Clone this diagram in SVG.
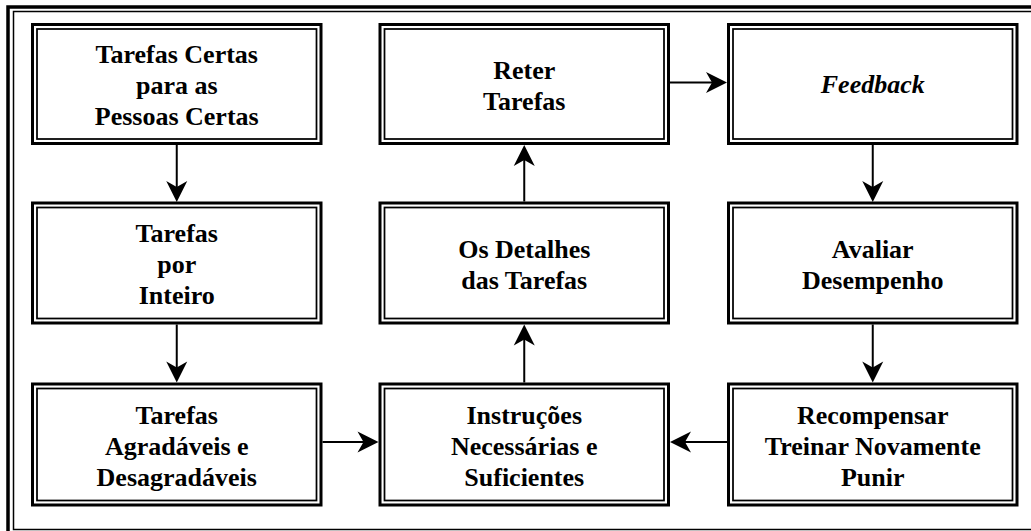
<svg xmlns="http://www.w3.org/2000/svg" width="1031" height="531" viewBox="0 0 1031 531">
<style>
.frameO{fill:none;stroke:#000;stroke-width:3.5}
.frameI{fill:none;stroke:#000;stroke-width:1.5}
.bo{fill:#fff;stroke:#000;stroke-width:3}
.bi{fill:none;stroke:#000;stroke-width:1.75}
.t{font-family:"Liberation Serif","Times New Roman",serif;font-weight:bold;font-size:26px;text-anchor:middle;fill:#000}
.it{font-style:italic}
.c{fill:none;stroke:#000;stroke-width:2;marker-end:url(#ah)}
</style>
<defs>
<marker id="ah" markerUnits="userSpaceOnUse" markerWidth="40" markerHeight="40" viewBox="-20 -20 40 40" refX="0" refY="0" orient="auto" overflow="visible">
<path d="M12,0 L-9,-10.5 L-3,0 L-9,10.5 Z" fill="#000"/>
</marker>
</defs>
<rect width="1031" height="531" fill="#fff"/>
<rect class="frameO" x="8" y="7" width="1040" height="540"/>
<rect class="frameI" x="13.5" y="11.5" width="1030" height="518"/>

<g id="n1">
<rect class="bo" x="32.5" y="24.5" width="288.5" height="119"/>
<rect class="bi" x="37" y="29" width="279.5" height="110"/>
<text class="t" x="176.75" y="63">Tarefas Certas</text>
<text class="t" x="176.75" y="94">para as</text>
<text class="t" x="176.75" y="125">Pessoas Certas</text>
</g>
<g id="n2">
<rect class="bo" x="32.5" y="203" width="288.5" height="120"/>
<rect class="bi" x="37" y="207.5" width="279.5" height="111"/>
<text class="t" x="176.75" y="242">Tarefas</text>
<text class="t" x="176.75" y="273">por</text>
<text class="t" x="176.75" y="304">Inteiro</text>
</g>
<g id="n3">
<rect class="bo" x="32.5" y="384" width="288.5" height="121"/>
<rect class="bi" x="37" y="388.5" width="279.5" height="112"/>
<text class="t" x="176.75" y="424">Tarefas</text>
<text class="t" x="176.75" y="455">Agradáveis e</text>
<text class="t" x="176.75" y="486">Desagradáveis</text>
</g>

<g id="n4">
<rect class="bo" x="380" y="24.5" width="288.5" height="119"/>
<rect class="bi" x="384.5" y="29" width="279.5" height="110"/>
<text class="t" x="524.25" y="78.5">Reter</text>
<text class="t" x="524.25" y="109.5">Tarefas</text>
</g>
<g id="n5">
<rect class="bo" x="380" y="203" width="288.5" height="120"/>
<rect class="bi" x="384.5" y="207.5" width="279.5" height="111"/>
<text class="t" x="524.25" y="257.5">Os Detalhes</text>
<text class="t" x="524.25" y="288.5">das Tarefas</text>
</g>
<g id="n6">
<rect class="bo" x="380" y="384" width="288.5" height="121"/>
<rect class="bi" x="384.5" y="388.5" width="279.5" height="112"/>
<text class="t" x="524.25" y="424">Instruções</text>
<text class="t" x="524.25" y="455">Necessárias e</text>
<text class="t" x="524.25" y="486">Suficientes</text>
</g>

<g id="n7">
<rect class="bo" x="728.5" y="24.5" width="288.5" height="119"/>
<rect class="bi" x="733" y="29" width="279.5" height="110"/>
<text class="t it" x="872.75" y="93">Feedback</text>
</g>
<g id="n8">
<rect class="bo" x="728.5" y="203" width="288.5" height="120"/>
<rect class="bi" x="733" y="207.5" width="279.5" height="111"/>
<text class="t" x="872.75" y="257.5">Avaliar</text>
<text class="t" x="872.75" y="288.5">Desempenho</text>
</g>
<g id="n9">
<rect class="bo" x="728.5" y="384" width="288.5" height="121"/>
<rect class="bi" x="733" y="388.5" width="279.5" height="112"/>
<text class="t" x="872.75" y="424">Recompensar</text>
<text class="t" x="872.75" y="455">Treinar Novamente</text>
<text class="t" x="872.75" y="486">Punir</text>
</g>

<g id="connectors">
<line class="c" x1="176.75" y1="145" x2="176.75" y2="190"/>
<line class="c" x1="176.75" y1="324.5" x2="176.75" y2="370.5"/>
<line class="c" x1="322.5" y1="442" x2="366.5" y2="442"/>
<line class="c" x1="524.25" y1="382.5" x2="524.25" y2="336.5"/>
<line class="c" x1="524.25" y1="201.5" x2="524.25" y2="157"/>
<line class="c" x1="670" y1="82.5" x2="715" y2="82.5"/>
<line class="c" x1="872.75" y1="145" x2="872.75" y2="190"/>
<line class="c" x1="872.75" y1="324.5" x2="872.75" y2="370.5"/>
<line class="c" x1="727" y1="442" x2="682" y2="442"/>
</g>
</svg>
